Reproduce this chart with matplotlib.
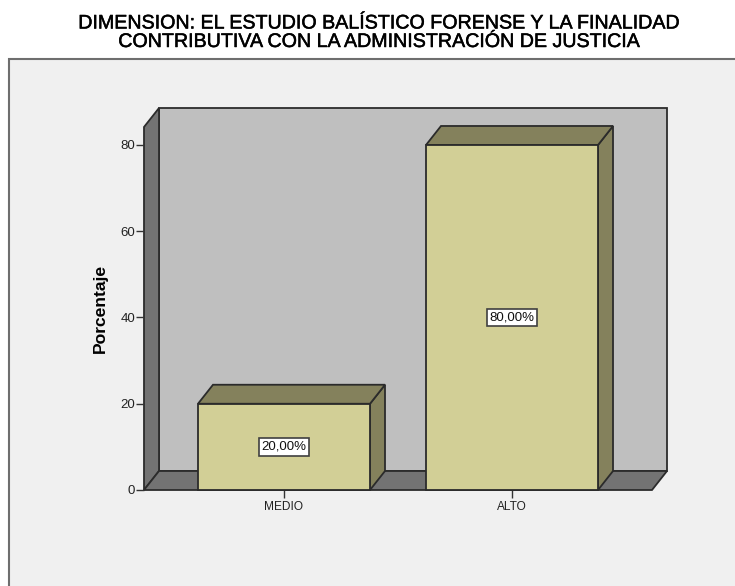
import matplotlib
matplotlib.use("Agg")
import matplotlib.pyplot as plt
import matplotlib.patheffects as pe
from matplotlib.patches import Polygon, Rectangle

plt.rcParams["font.family"] = ["Liberation Sans", "DejaVu Sans"]

categories = ["MEDIO", "ALTO"]
values = [20, 80]
value_labels = ["20,00%", "80,00%"]
y_ticks = [0, 20, 40, 60, 80]

W, H = 735, 586
EDGE = "#2b2b2b"
WALL = "#bfbfbf"
SIDE = "#737373"
FRONT = "#d2cf96"
SHADE = "#84815c"

fig = plt.figure(figsize=(W / 100, H / 100), dpi=100, facecolor="white")

# grey chart panel, runs off the right and bottom edge of the picture
fig.add_artist(Rectangle((9 / W, -0.01), 1, (586 - 58.5) / H + 0.01,
                         transform=fig.transFigure, facecolor="#f0f0f0",
                         edgecolor="#6e6e6e", linewidth=1.5, zorder=-1))

heavy = [pe.withStroke(linewidth=0.35, foreground="black")]
fig.text(379 / W, 1 - 23 / H, "DIMENSION: EL ESTUDIO BALÍSTICO FORENSE Y LA FINALIDAD",
         ha="center", va="center", fontsize=14.15, color="black", path_effects=heavy)
fig.text(379 / W, 1 - 41.5 / H, "CONTRIBUTIVA CON LA ADMINISTRACIÓN DE JUSTICIA",
         ha="center", va="center", fontsize=14.15, color="black", path_effects=heavy)

# axes = the front plane of the 3D box
ax = fig.add_axes([144 / W, (H - 490) / H, 508 / W, 363 / H])
ax.patch.set_visible(False)
ax.set_xlim(-0.614, 1.614)
ax.set_ylim(0, 84.17)

dx = 15 / 228
dy = 19 / 4.3125
x0, x1 = ax.get_xlim()
ytop = ax.get_ylim()[1]


def poly(pts, color, z):
    ax.add_patch(Polygon(pts, closed=True, facecolor=color, edgecolor=EDGE,
                         linewidth=1.3, joinstyle="miter", clip_on=False, zorder=z))


# back wall, left wall, floor
poly([(x0 + dx, dy), (x1 + dx, dy), (x1 + dx, ytop + dy), (x0 + dx, ytop + dy)], WALL, 1)
poly([(x0, 0), (x0 + dx, dy), (x0 + dx, ytop + dy), (x0, ytop)], SIDE, 1.1)
poly([(x0, 0), (x1, 0), (x1 + dx, dy), (x0 + dx, dy)], SIDE, 1.1)

bar_w = 172 / 228
for i, v in enumerate(values):
    l, r = i - bar_w / 2, i + bar_w / 2
    poly([(r, 0), (r + dx, dy), (r + dx, v + dy), (r, v)], SHADE, 2)
    poly([(l, v), (r, v), (r + dx, v + dy), (l + dx, v + dy)], SHADE, 2)
    poly([(l, 0), (r, 0), (r, v), (l, v)], FRONT, 3)
    ax.text(i, v / 2, value_labels[i], ha="center", va="center", fontsize=9.5,
            color="#111111", zorder=4,
            bbox=dict(boxstyle="square,pad=0.2", facecolor="white",
                      edgecolor="#404040", linewidth=1.2))

for s in ["top", "right", "left", "bottom"]:
    ax.spines[s].set_visible(False)

ax.set_xticks(range(len(categories)), categories)
ax.set_yticks(y_ticks)
ax.tick_params(axis="x", length=6, width=1, color="#333333", labelsize=8.6, pad=2, labelcolor="#222222")
ax.tick_params(axis="y", length=5.5, width=1, color="#333333", labelsize=9.5, pad=1, labelcolor="#222222")

fig.text(100.5 / W, 1 - 308 / H, "Porcentaje", rotation=90, ha="center", va="center",
         fontsize=12.6, fontweight="bold", color="black")

fig.savefig("out.png", dpi=100)
